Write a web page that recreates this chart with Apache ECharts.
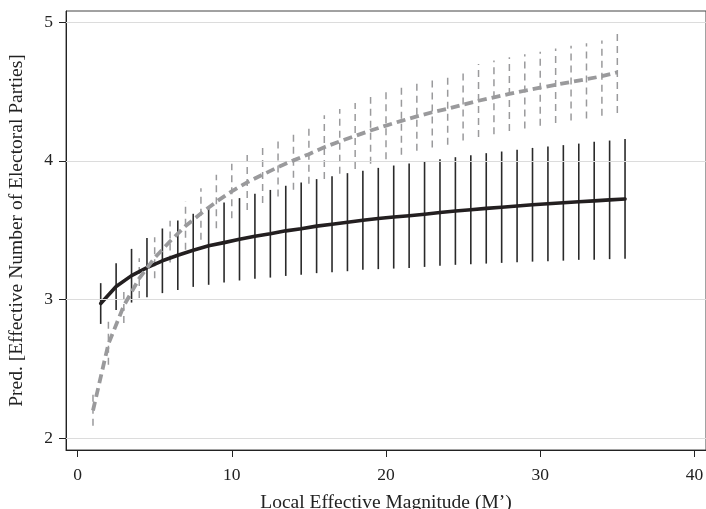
<!DOCTYPE html>
<html>
<head>
<meta charset="utf-8">
<script src="https://cdn.jsdelivr.net/npm/echarts@6/dist/echarts.min.js"></script>
<style>html,body{margin:0;padding:0;background:#fff}#c{width:706px;height:509px}</style>
</head>
<body>
<div id="c"></div>
<script>
// Black series (solid) : x positions, predicted values, CI
var blackX = [1.5,2.5,3.5,4.5,5.5,6.5,7.5,8.5,9.5,10.5,11.5,12.5,13.5,14.5,15.5,16.5,17.5,18.5,19.5,20.5,21.5,22.5,23.5,24.5,25.5,26.5,27.5,28.5,29.5,30.5,31.5,32.5,33.5,34.5,35.5];
var blackMean = [2.971,3.094,3.172,3.230,3.279,3.319,3.355,3.388,3.410,3.434,3.456,3.474,3.495,3.510,3.529,3.543,3.557,3.571,3.584,3.595,3.604,3.615,3.627,3.638,3.647,3.657,3.665,3.674,3.683,3.690,3.697,3.705,3.711,3.718,3.725];
var blackHi = [3.118,3.262,3.365,3.444,3.512,3.569,3.618,3.670,3.699,3.731,3.762,3.790,3.820,3.843,3.868,3.889,3.911,3.928,3.949,3.966,3.980,3.995,4.012,4.026,4.040,4.055,4.067,4.079,4.093,4.103,4.113,4.124,4.137,4.146,4.158];
var blackLo = [2.824,2.925,2.978,3.017,3.046,3.069,3.091,3.106,3.122,3.137,3.149,3.158,3.170,3.178,3.190,3.197,3.204,3.214,3.219,3.223,3.228,3.235,3.243,3.250,3.255,3.259,3.264,3.269,3.273,3.276,3.280,3.286,3.286,3.291,3.293];

// Gray series (dashed)
var grayX = [1,2,3,4,5,6,7,8,9,10,11,12,13,14,15,16,17,18,19,20,21,22,23,24,25,26,27,28,29,30,31,32,33,34,35];
var grayMean = [2.20,2.68,2.955,3.152,3.30,3.42,3.53,3.62,3.705,3.78,3.845,3.90,3.955,4.003,4.048,4.098,4.14,4.179,4.218,4.254,4.288,4.32,4.35,4.375,4.405,4.433,4.458,4.482,4.505,4.527,4.548,4.568,4.588,4.61,4.638];
var grayHi = [2.33,2.84,3.09,3.298,3.449,3.567,3.707,3.803,3.899,3.978,4.048,4.108,4.161,4.204,4.248,4.329,4.373,4.416,4.46,4.50,4.536,4.572,4.603,4.63,4.663,4.697,4.723,4.747,4.768,4.787,4.809,4.829,4.848,4.867,4.92];
var grayLo = [2.09,2.53,2.83,3.01,3.154,3.266,3.358,3.43,3.514,3.586,3.646,3.695,3.743,3.791,3.834,3.868,3.906,3.94,3.978,4.012,4.043,4.072,4.096,4.115,4.146,4.171,4.192,4.214,4.233,4.252,4.272,4.291,4.305,4.324,4.344];

var xTicks = [0,10,20,30,40];
var yTicks = [2,3,4,5];

function zip2(xs, ys){ return xs.map(function(x,i){ return [x, ys[i]]; }); }
function zip3(xs, lo, hi){ return xs.map(function(x,i){ return [x, lo[i], hi[i]]; }); }

function barRenderer(color, width, dash){
  return function(params, api){
    var p1 = api.coord([api.value(0), api.value(1)]);
    var p2 = api.coord([api.value(0), api.value(2)]);
    return {type:'line', shape:{x1:p1[0], y1:p1[1], x2:p2[0], y2:p2[1]},
            style:{stroke:color, lineWidth:width, lineDash:dash}};
  };
}

var FONT = 'Liberation Serif';
var chart = echarts.init(document.getElementById('c'), null, {renderer:'canvas'});
chart.setOption({
  animation:false,
  backgroundColor:'#fff',
  grid:{left:66, top:11, right:0, bottom:59, show:true, borderColor:'#444', borderWidth:1,
        containLabel:false, outerBoundsMode:'none'},
  xAxis:{
    type:'value', min:-0.75, max:40.75,
    name:'Local Effective Magnitude (M\u2019)', nameLocation:'middle', nameGap:43,
    nameTextStyle:{fontFamily:FONT, fontSize:19.5, color:'#222'},
    axisLine:{show:true, onZero:false, lineStyle:{color:'#222', width:1}},
    axisTick:{show:true, length:7, customValues:xTicks, lineStyle:{color:'#222'}},
    axisLabel:{customValues:xTicks, margin:16, fontFamily:FONT, fontSize:17.5, color:'#222'},
    splitLine:{show:false}
  },
  yAxis:{
    type:'value', min:1.915, max:5.08,
    name:'Pred. [Effective Number of Electoral Parties]', nameLocation:'middle', nameGap:39, nameRotate:90,
    nameTextStyle:{fontFamily:FONT, fontSize:19.5, color:'#222'},
    axisLine:{show:true, onZero:false, lineStyle:{color:'#222', width:1}},
    axisTick:{show:true, length:7, customValues:yTicks, lineStyle:{color:'#222'}},
    axisLabel:{customValues:yTicks, margin:13, fontFamily:FONT, fontSize:17.5, color:'#222'},
    splitLine:{show:false}
  },
  series:[
    {type:'line', data:[], silent:true,
     markLine:{silent:true, symbol:'none', label:{show:false},
       lineStyle:{color:'#dcdcdc', width:1.2, type:'solid'},
       data:yTicks.map(function(v){ return {yAxis:v}; })}},
    {type:'custom', renderItem:barRenderer('#2a2a2a',1.6,null), data:zip3(blackX, blackLo, blackHi), z:2},
    {type:'custom', renderItem:barRenderer('#9a9a9c',1.5,[7,5]), data:zip3(grayX, grayLo, grayHi), z:3},
    {type:'line', data:zip2(blackX, blackMean), showSymbol:false, symbol:'none', z:4,
     lineStyle:{color:'#231f20', width:3.6, cap:'round', join:'round'}},
    {type:'line', data:zip2(grayX, grayMean), showSymbol:false, symbol:'none', z:5,
     lineStyle:{color:'#9a9a9c', width:3.8, type:[9,5], join:'round'}}
  ]
});
</script>
</body>
</html>
